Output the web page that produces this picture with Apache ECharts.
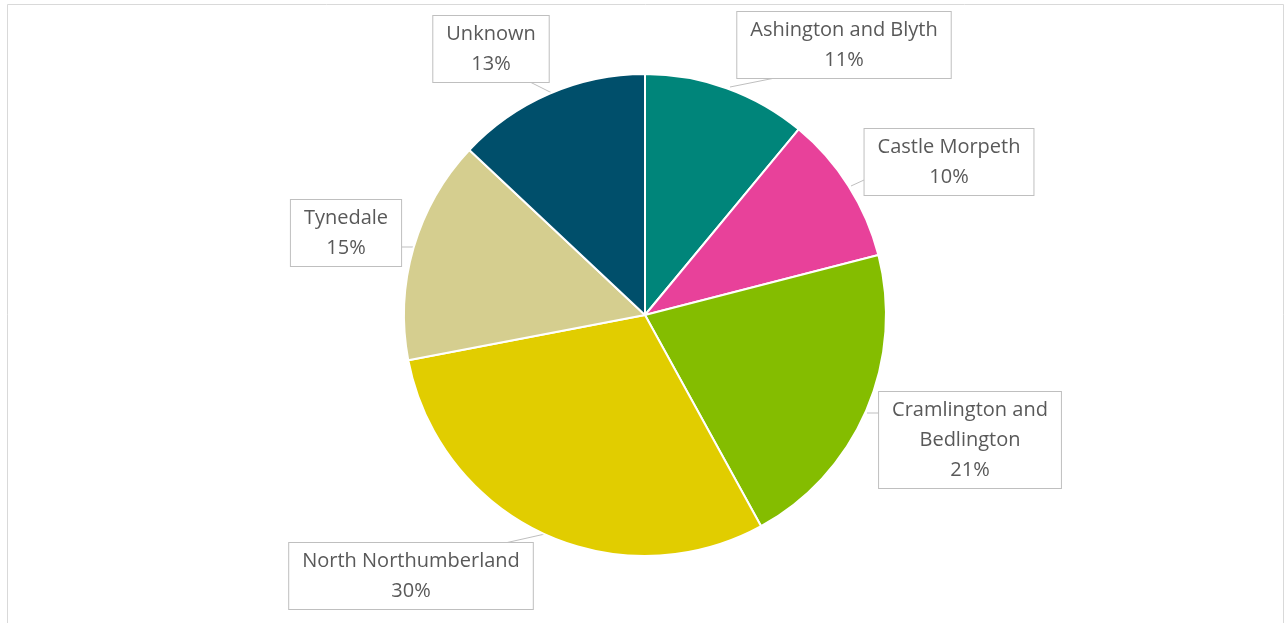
<!DOCTYPE html>
<html>
<head>
<meta charset="utf-8">
<script src="https://cdn.jsdelivr.net/npm/echarts@6/dist/echarts.min.js"></script>
<style>
html,body{margin:0;padding:0;background:#fff;}
#c{width:1286px;height:623px;}
</style>
</head>
<body>
<div id="c"></div>
<script>
const categories = ['Ashington and Blyth', 'Castle Morpeth', 'Cramlington and Bedlington', 'North Northumberland', 'Tynedale', 'Unknown'];
const values = [11, 10, 21, 30, 15, 13];
const colors = ['#00857A', '#E8419A', '#84BD00', '#E1CD00', '#D5CE8F', '#004F6B'];

// label callout placement (style only): box centre and leader line (tip on slice edge -> box edge)
const labelPlacement = [
  { x: 844, y: 45, line: [[730, 87], [775, 78]] },
  { x: 949, y: 162, line: [[851, 186], [864, 180]] },
  { x: 970, y: 440, line: [[867, 413], [880, 413]] },
  { x: 411, y: 576, line: [[545, 534], [505, 543]] },
  { x: 346, y: 233, line: [[413, 247], [398, 247]] },
  { x: 491, y: 49, line: [[552, 93], [530, 82]] }
];
const wrapNames = { 'Cramlington and Bedlington': 'Cramlington and\nBedlington' };

const chart = echarts.init(document.getElementById('c'));
chart.setOption({
  backgroundColor: '#fff',
  animation: false,
  graphic: [{
    type: 'rect',
    shape: { x: 7.5, y: 4.5, width: 1276, height: 700 },
    style: { fill: 'none', stroke: '#d9d9d9', lineWidth: 1 },
    silent: true
  }],
  series: [{
    type: 'pie',
    center: [645, 315],
    radius: 241,
    startAngle: 90,
    clockwise: true,
    percentPrecision: 0,
    itemStyle: { borderColor: '#fff', borderWidth: 2 },
    label: {
      show: true,
      position: 'outside',
      formatter: p => (wrapNames[p.name] || p.name) + '\n' + Math.round(p.percent) + '%',
      fontFamily: '"Open Sans", Calibri, sans-serif',
      fontSize: 20,
      lineHeight: 30,
      color: '#595959',
      align: 'center',
      backgroundColor: '#fff',
      borderColor: '#bfbfbf',
      borderWidth: 1,
      padding: [4, 13, 2, 13]
    },
    labelLine: { show: true, lineStyle: { color: '#bfbfbf', width: 1 } },
    labelLayout: function (params) {
      const p = labelPlacement[params.dataIndex];
      return {
        x: p.x, y: p.y, align: 'center', verticalAlign: 'middle',
        labelLinePoints: p.line
      };
    },
    data: categories.map((n, i) => ({ name: n, value: values[i], itemStyle: { color: colors[i] } }))
  }]
});
</script>
</body>
</html>
